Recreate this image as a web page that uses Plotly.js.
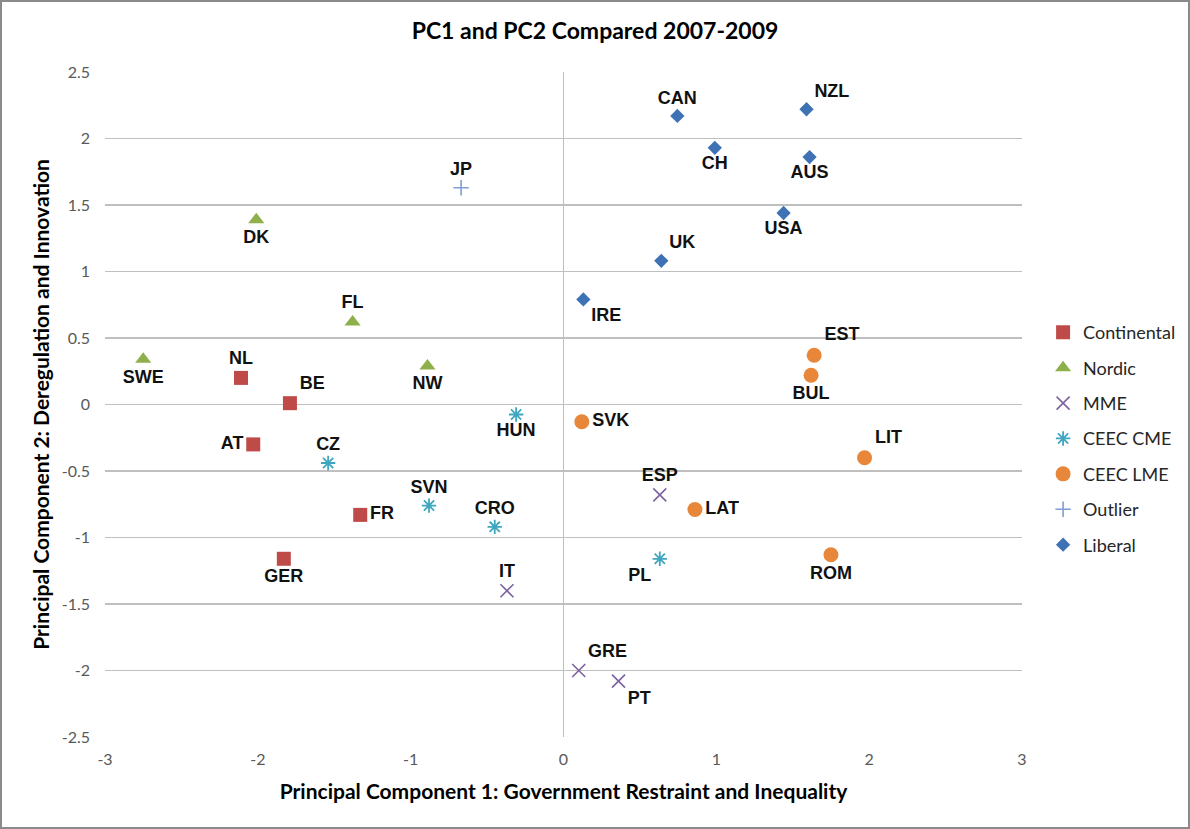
<!DOCTYPE html>
<html>
<head>
<meta charset="utf-8">
<script src="https://cdn.plot.ly/plotly-3.0.1.min.js"></script>
<style>
  html, body { margin: 0; padding: 0; background: #fff; }
  #frame { width: 1190px; height: 829px; box-sizing: border-box; border: 2px solid #8a8a8a; background: #fff; }
  #chart { width: 1186px; height: 825px; }
</style>
</head>
<body>
<div id="frame"><div id="chart"></div></div>
<script>
// ---- data ----
const continentalNames = ['NL', 'BE', 'AT', 'FR', 'GER'];
const continentalX = [-2.11, -1.79, -2.03, -1.33, -1.83];
const continentalY = [0.20, 0.01, -0.30, -0.83, -1.16];

const nordicNames = ['SWE', 'DK', 'FL', 'NW'];
const nordicX = [-2.75, -2.01, -1.38, -0.89];
const nordicY = [0.34, 1.39, 0.62, 0.29];

const mmeNames = ['ESP', 'IT', 'GRE', 'PT'];
const mmeX = [0.63, -0.37, 0.10, 0.36];
const mmeY = [-0.68, -1.40, -2.00, -2.08];

const ceecCmeNames = ['HUN', 'CZ', 'SVN', 'CRO', 'PL'];
const ceecCmeX = [-0.31, -1.54, -0.88, -0.45, 0.63];
const ceecCmeY = [-0.075, -0.44, -0.76, -0.92, -1.16];

const ceecLmeNames = ['SVK', 'EST', 'BUL', 'LIT', 'LAT', 'ROM'];
const ceecLmeX = [0.12, 1.64, 1.62, 1.97, 0.86, 1.75];
const ceecLmeY = [-0.13, 0.37, 0.22, -0.40, -0.79, -1.13];

const outlierNames = ['JP'];
const outlierX = [-0.67];
const outlierY = [1.63];

const liberalNames = ['CAN', 'NZL', 'CH', 'AUS', 'USA', 'UK', 'IRE'];
const liberalX = [0.745, 1.59, 0.99, 1.61, 1.44, 0.64, 0.13];
const liberalY = [2.17, 2.22, 1.93, 1.86, 1.44, 1.08, 0.79];

const xTickVals = [-3, -2, -1, 0, 1, 2, 3];
const xTickText = ['-3', '-2', '-1', '0', '1', '2', '3'];
const yTickVals = [-2.5, -2, -1.5, -1, -0.5, 0, 0.5, 1, 1.5, 2, 2.5];
const yTickText = ['-2.5', '-2', '-1.5', '-1', '-0.5', '0', '0.5', '1', '1.5', '2', '2.5'];

// ---- label placement (style) ----
const continentalPos = ['top center', 'top right', 'middle left', 'middle right', 'bottom center'];
const nordicPos = ['bottom center', 'bottom center', 'top center', 'bottom center'];
const mmePos = ['top center', 'top center', 'top right', 'bottom right'];
const ceecCmePos = ['bottom center', 'top center', 'top center', 'top center', 'bottom left'];
const ceecLmePos = ['middle right', 'top right', 'bottom center', 'top right', 'middle right', 'bottom center'];
const outlierPos = ['top center'];
const liberalPos = ['top center', 'top right', 'bottom center', 'bottom center', 'bottom center', 'top right', 'bottom right'];

const labelFont = { family: 'Liberation Sans, Arial, sans-serif', size: 18, color: '#111111', weight: 'bold' };

function series(name, xs, ys, labels, pos, marker, group) {
  return {
    type: 'scatter', mode: 'markers+text', name: name,
    x: xs, y: ys, text: labels, textposition: pos,
    textfont: labelFont, marker: marker, legendgroup: group,
    cliponaxis: false, hoverinfo: 'x+y+text'
  };
}

const traces = [
  series('Continental', continentalX, continentalY, continentalNames, continentalPos,
    { symbol: 'square', size: 14, color: '#BE4B48' }, 'g1'),
  series('Nordic', nordicX, nordicY, nordicNames, nordicPos,
    { symbol: 'triangle-up', size: 14, color: '#8DB04A' }, 'g2'),
  series('MME', mmeX, mmeY, mmeNames, mmePos,
    { symbol: 'x-thin-open', size: 13, color: '#7D62A1', line: { width: 1.6, color: '#7D62A1' } }, 'g3'),
  series('CEEC CME', ceecCmeX, ceecCmeY, ceecCmeNames, ceecCmePos,
    { symbol: 'asterisk-open', size: 12, color: '#3FA6C0', line: { width: 1.8, color: '#3FA6C0' } }, 'g4'),
  series('CEEC LME', ceecLmeX, ceecLmeY, ceecLmeNames, ceecLmePos,
    { symbol: 'circle', size: 15, color: '#E8873A' }, 'g5'),
  series('Outlier', outlierX, outlierY, outlierNames, outlierPos,
    { symbol: 'cross-thin-open', size: 11, color: '#7F9ED3', line: { width: 1.6, color: '#7F9ED3' } }, 'g6'),
  series('Liberal', liberalX, liberalY, liberalNames, liberalPos,
    { symbol: 'diamond', size: 11, color: '#3F72B4' }, 'g7')
];

const baseFont = 'Lato, "Open Sans", sans-serif';

const layout = {
  width: 1186, height: 825,
  margin: { l: 103, r: 166, t: 70, b: 90, autoexpand: false },
  paper_bgcolor: '#ffffff', plot_bgcolor: '#ffffff',
  font: { family: baseFont, size: 16, color: '#595959' },
  title: {
    text: 'PC1 and PC2 Compared 2007-2009',
    font: { family: baseFont, size: 23, color: '#000000', weight: 'bold' },
    x: 0.5, xanchor: 'center', xref: 'container',
    y: 1 - 29 / 825, yanchor: 'middle', yref: 'container'
  },
  xaxis: {
    range: [-3, 3], tickvals: xTickVals, ticktext: xTickText,
    showgrid: false, zeroline: true, zerolinecolor: '#BFBFBF', zerolinewidth: 1.5,
    showline: false, ticks: '', ticklabelstandoff: 11, automargin: false,
    tickfont: { family: baseFont, size: 16, color: '#595959' },
    title: { text: 'Principal Component 1: Government Restraint and Inequality',
      font: { family: baseFont, size: 21, color: '#000000', weight: 'bold' }, standoff: 17 }
  },
  yaxis: {
    range: [-2.5, 2.5], tickvals: yTickVals, ticktext: yTickText,
    showgrid: true, gridcolor: '#BFBFBF', gridwidth: 1.5,
    zeroline: false, showline: false, ticks: '', ticklabelstandoff: 14, automargin: false,
    tickfont: { family: baseFont, size: 16, color: '#595959' },
    title: { text: 'Principal Component 2: Deregulation and Innovation',
      font: { family: baseFont, size: 21, color: '#000000', weight: 'bold' }, standoff: 6 }
  },
  showlegend: true,
  legend: {
    x: 1.023, xanchor: 'left', y: 0.636, yanchor: 'top',
    font: { family: baseFont, size: 18, color: '#262626' },
    traceorder: 'grouped', tracegroupgap: 9,
    bgcolor: 'rgba(0,0,0,0)', borderwidth: 0, itemclick: false
  }
};

Plotly.newPlot('chart', traces, layout, { displayModeBar: false, staticPlot: true });
</script>
</body>
</html>
